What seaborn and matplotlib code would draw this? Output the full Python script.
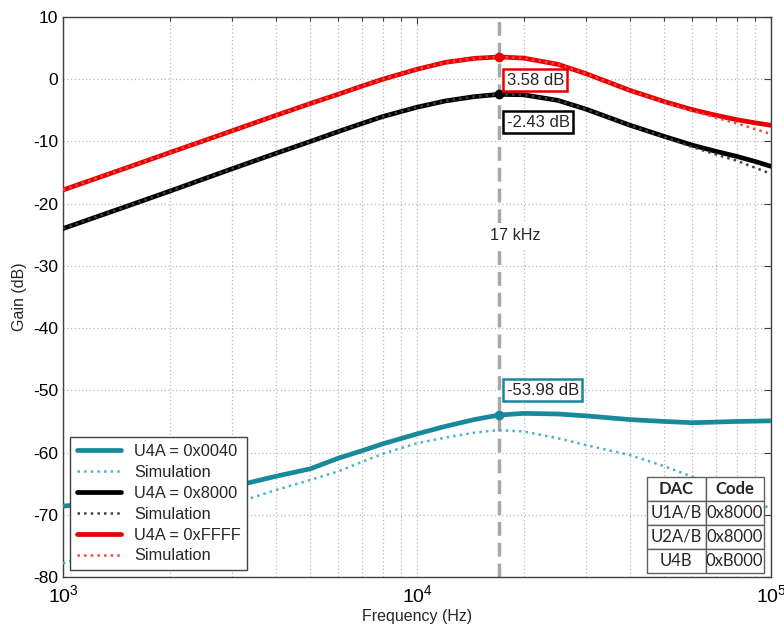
import numpy as np
import pandas as pd
import seaborn as sns
import matplotlib.pyplot as plt
from matplotlib.ticker import LogLocator, MultipleLocator, NullFormatter, FuncFormatter

# values
freq = [1000, 1500, 2000, 3000, 4000, 5000, 6000, 7000, 8000, 10000, 12000, 14500, 17000,
        20000, 25000, 30000, 40000, 50000, 60000, 70000, 80000, 90000, 100000]

gain_0040 = [-68.6, -67.8, -67.0, -65.5, -63.8, -62.6, -60.9, -59.7, -58.6, -57.0, -55.8, -54.7, -53.98,
             -53.7, -53.8, -54.1, -54.7, -55.0, -55.2, -55.1, -55.0, -54.95, -54.9]
sim_0040 = [-77.8, -74.3, -71.8, -68.3, -66.0, -64.4, -63.0, -61.5, -60.2, -58.5, -57.6, -56.8, -56.4,
            -56.6, -57.7, -58.8, -60.4, -62.2, -63.9, -65.6, -66.9, -68.0, -69.0]

gain_8000 = [-24.0, -20.5, -18.0, -14.4, -11.9, -10.0, -8.4, -7.1, -6.0, -4.5, -3.5, -2.8, -2.43,
             -2.5, -3.4, -4.8, -7.4, -9.2, -10.6, -11.6, -12.4, -13.2, -14.0]
sim_8000 = [-24.0, -20.5, -18.0, -14.4, -11.9, -10.0, -8.4, -7.1, -6.0, -4.5, -3.5, -2.8, -2.43,
            -2.5, -3.4, -4.8, -7.4, -9.3, -10.9, -12.1, -13.1, -14.2, -15.2]

gain_ffff = [-17.8, -14.3, -11.8, -8.3, -5.8, -3.9, -2.4, -1.1, 0.0, 1.6, 2.7, 3.35, 3.58,
             3.4, 2.4, 0.9, -1.8, -3.6, -4.9, -5.8, -6.5, -7.0, -7.4]
sim_ffff = [-17.8, -14.3, -11.8, -8.3, -5.8, -3.9, -2.4, -1.1, 0.0, 1.6, 2.7, 3.35, 3.58,
            3.4, 2.4, 0.9, -1.8, -3.7, -5.1, -6.2, -7.1, -8.0, -8.8]

peak_freq = 17000
peak_gain = {'0040': -53.98, '8000': -2.43, 'FFFF': 3.58}

table_cols = ['DAC', 'Code']
table_rows = [['U1A/B', '0x8000'], ['U2A/B', '0x8000'], ['U4B', '0xB000']]

teal = '#17899a'
teal_sim = '#4db4c4'
red = '#e80000'
red_sim = '#f04848'
black = '#000000'
black_sim = '#404040'

sns.set_style('white')
plt.rcParams['font.family'] = ['Liberation Sans', 'DejaVu Sans']
plt.rcParams['axes.unicode_minus'] = False
plt.rcParams['mathtext.fontset'] = 'custom'
plt.rcParams['mathtext.rm'] = 'Liberation Sans'

fig, ax = plt.subplots(figsize=(7.84, 6.3), dpi=100)
fig.subplots_adjust(left=0.0804, right=0.9834, top=0.973, bottom=0.0841)

ax.axvline(peak_freq, color='#a8a8a8', ls=(0, (4, 2)), lw=2.5, zorder=1)

series = [
    (gain_0040, teal, '-', 3.4, 'U4A = 0x0040'),
    (sim_0040, teal_sim, ':', 1.8, 'Simulation'),
    (gain_8000, black, '-', 3.4, 'U4A = 0x8000'),
    (sim_8000, black_sim, ':', 1.8, 'Simulation'),
    (gain_ffff, red, '-', 3.4, 'U4A = 0xFFFF'),
    (sim_ffff, red_sim, ':', 1.8, 'Simulation'),
]
for vals, col, ls, lw, lab in series:
    sns.lineplot(x=freq, y=vals, ax=ax, color=col, linestyle=ls, linewidth=lw,
                 label=lab, zorder=3)

for key, col in [('0040', teal), ('8000', black), ('FFFF', red)]:
    ax.plot([peak_freq], [peak_gain[key]], 'o', color=col, ms=6, zorder=4)

ax.set_xscale('log')
ax.set_xlim(1e3, 1e5)
ax.set_ylim(-80, 10)
ax.yaxis.set_major_locator(MultipleLocator(10))
ax.xaxis.set_major_locator(LogLocator(base=10))
ax.xaxis.set_major_formatter(FuncFormatter(lambda v, p: '$\\mathregular{10^{%d}}$' % round(np.log10(v))))
ax.xaxis.set_minor_locator(LogLocator(base=10, subs=np.arange(2, 10)))
ax.xaxis.set_minor_formatter(NullFormatter())

ax.grid(True, which='major', color='#b8b8b8', ls=(0, (1, 2)), lw=0.9)
ax.grid(True, which='minor', axis='x', color='#b8b8b8', ls=(0, (1, 2)), lw=0.9)
ax.tick_params(which='both', direction='in', top=True, right=True, labelsize=12.5,
               colors='#404040', labelcolor='black')
ax.tick_params(axis='x', labelsize=14, pad=5)
ax.tick_params(which='major', length=5, width=0.8)
ax.tick_params(which='minor', length=3, width=0.8)
for sp in ax.spines.values():
    sp.set_color('#404040')
    sp.set_linewidth(1.0)

ax.set_xlabel('Frequency (Hz)', fontsize=11.5, labelpad=2)
ax.set_ylabel('Gain (dB)', fontsize=11.5)

# peak annotations
ax.text(17900, -0.15, '3.58 dB', fontsize=12, va='center', ha='left', zorder=5,
        bbox=dict(boxstyle='square,pad=0.2', fc='white', ec=red, lw=1.8))
ax.text(17900, -6.9, '-2.43 dB', fontsize=12, va='center', ha='left', zorder=5,
        bbox=dict(boxstyle='square,pad=0.2', fc='white', ec=black, lw=1.8))
ax.text(17900, -49.95, '-53.98 dB', fontsize=12, va='center', ha='left', zorder=5,
        bbox=dict(boxstyle='square,pad=0.2', fc='white', ec=teal, lw=1.8))
ax.text(18900, -25.1, '17 kHz', fontsize=11.6, va='center', ha='center', zorder=2,
        bbox=dict(boxstyle='square,pad=0.3', fc='white', ec='none'))

leg = ax.legend(loc='lower left', bbox_to_anchor=(0.01, 0.0125), borderaxespad=0,
                fontsize=11.8, handlelength=2.7, labelspacing=0.36, fancybox=False,
                framealpha=1, edgecolor='#404040')
leg.get_frame().set_linewidth(1.0)

tbl = ax.table(cellText=table_rows, colLabels=table_cols, cellLoc='center',
               bbox=[0.825, 0.007, 0.165, 0.172], zorder=6)
tbl.auto_set_font_size(False)
for (r, c), cell in tbl.get_celld().items():
    cell.set_edgecolor('#606060')
    cell.set_linewidth(1.0)
    cell.set_facecolor('white')
    cell.get_text().set_fontfamily('Lato')
    cell.get_text().set_fontsize(12)
    if r == 0:
        cell.get_text().set_fontweight('bold')

fig.savefig('out.png', dpi=100)
